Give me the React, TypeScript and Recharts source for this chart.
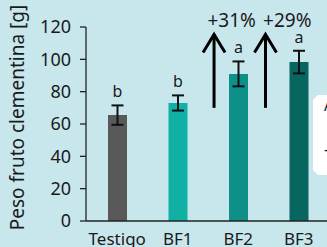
import React from 'react';
import { BarChart, Bar, XAxis, YAxis, ErrorBar, LabelList, ReferenceLine, ReferenceDot, Cell } from 'recharts';

const categories = ['Testigo', 'BF1', 'BF2', 'BF3'];
const weights = [65.5, 73, 91, 98.3];
const errors = [6, 4.7, 7.7, 7];
const letters = ['b', 'b', 'a', 'a'];
const barColors = ['#595959', '#10b0a5', '#0c9088', '#086660'];
const yTicks = [0, 20, 40, 60, 80, 100, 120];
const arrowX = [1.6, 2.45];
const arrowFrom = 70;
const arrowTo = 116;
const pctLabels = ['+31%', '+29%'];
const pctX = [1.89, 2.81];
const pctY = 124.3;

const data = categories.map((c, i) => ({ name: c, idx: i, w: weights[i], err: errors[i], letter: letters[i] }));

const BG = '#c8e7ed';
const FONT = '"Noto Sans", sans-serif';
const INK = '#1a1a1a';

const LetterLabel = (props: any) => {
  const { x, y, width, height, index } = props;
  const ppu = height / weights[index];
  const errTop = y - errors[index] * ppu;
  return (
    <text x={x + width / 2} y={errTop - 8} textAnchor="middle" fontSize={16} fontFamily={FONT} fill={INK}>
      {letters[index]}
    </text>
  );
};

const Arrow = (props: any) => {
  const { x1, y1, x2, y2 } = props;
  const tipY = Math.min(y1, y2);
  const baseY = Math.max(y1, y2);
  const x = x1;
  return (
    <g>
      <line x1={x} y1={baseY} x2={x} y2={tipY + 1} stroke="#000" strokeWidth={3} />
      <polyline points={`${x - 11},${tipY + 19} ${x},${tipY + 1} ${x + 11},${tipY + 19}`} fill="none" stroke="#000" strokeWidth={3} strokeLinejoin="miter" />
    </g>
  );
};

const makePct = (label: string) => (props: any) => (
  <text x={props.cx} y={props.cy} textAnchor="middle" dominantBaseline="central" fontSize={19} fontFamily={FONT} fill={INK}>
    {label}
  </text>
);

const YLabel = (props: any) => {
  const vb = props.viewBox || { x: 0, y: 27, width: 86, height: 194 };
  const cx = 17;
  const cy = vb.y + vb.height / 2 - 6.5;
  return (
    <text x={cx} y={cy} transform={`rotate(-90 ${cx} ${cy})`} textAnchor="middle" dominantBaseline="central" fontSize={19} fontFamily={FONT} fill={INK}>
      Peso fruto clementina [g]
    </text>
  );
};

export default function App() {
  return (
    <div style={{ position: 'absolute', left: 0, top: 0, width: 327, height: 247, overflow: 'hidden', background: BG }}>
      <BarChart width={329} height={247} data={data} margin={{ top: 27, right: 0, left: 0, bottom: 0 }}>
        <XAxis
          xAxisId="c"
          dataKey="name"
          height={26}
          padding={{ left: 1, right: 0 }}
          tickLine={false}
          tickSize={0}
          tickMargin={12}
          axisLine={{ stroke: '#222', strokeWidth: 1.3 }}
          tick={{ fontSize: 17, fontFamily: FONT, fill: INK }}
          interval={0}
        />
        <XAxis xAxisId="n" dataKey="idx" type="number" domain={[-0.5, 3.5]} padding={{ left: 1, right: 0 }} allowDataOverflow hide />
        <YAxis
          domain={[0, 120]}
          ticks={yTicks}
          width={86}
          tickSize={6}
          tickMargin={9}
          interval={0}
          axisLine={{ stroke: '#222', strokeWidth: 1.3 }}
          tickLine={{ stroke: '#222', strokeWidth: 1.3 }}
          tick={{ fontSize: 18, fontFamily: FONT, fill: INK }}
          label={<YLabel />}
        />
        <Bar xAxisId="c" dataKey="w" barSize={19} isAnimationActive={false}>
          {data.map((d, i) => (
            <Cell key={d.name} fill={barColors[i]} />
          ))}
          <ErrorBar dataKey="err" width={6} strokeWidth={2} stroke="#111" direction="y" />
          <LabelList dataKey="letter" content={<LetterLabel />} />
        </Bar>
        {arrowX.map((ax, i) => (
          <ReferenceLine
            key={'a' + i}
            xAxisId="n"
            segment={[{ x: ax, y: arrowFrom }, { x: ax, y: arrowTo }]}
            ifOverflow="visible"
            shape={<Arrow />}
          />
        ))}
        {pctLabels.map((p, i) => (
          <ReferenceDot key={'p' + i} xAxisId="n" x={pctX[i]} y={pctY} r={0} ifOverflow="visible" shape={makePct(p)} />
        ))}
      </BarChart>
      <svg width={327} height={247} style={{ position: 'absolute', left: 0, top: 0, pointerEvents: 'none' }}>
        <polygon points="318,95 330,95 330,175 318,175 313,170 313,100" fill="#ffffff" />
        <text x={324} y={111} fontSize={16} fontFamily={FONT} fill={INK}>A</text>
        <text x={324} y={155} fontSize={16} fontFamily={FONT} fill={INK}>-</text>
      </svg>
    </div>
  );
}
